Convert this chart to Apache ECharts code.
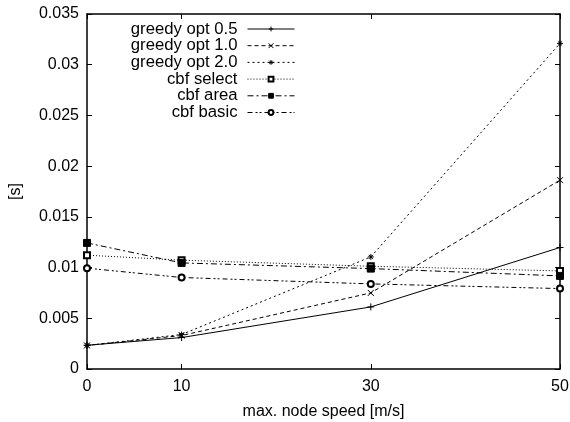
<!DOCTYPE html>
<html>
<head>
<meta charset="utf-8">
<script src="https://cdn.jsdelivr.net/npm/echarts@6/dist/echarts.min.js"></script>
<style>
html,body{margin:0;padding:0;background:#fff;}
#chart{width:570px;height:422px;}
</style>
</head>
<body>
<div id="chart"></div>
<script>
var speeds = [0, 10, 30, 50];
var xTicks = [0, 10, 30, 50];
var seriesNames = ['greedy opt 0.5', 'greedy opt 1.0', 'greedy opt 2.0', 'cbf select', 'cbf area', 'cbf basic'];
var greedy05 = [0.00234, 0.00310, 0.00612, 0.01198];
var greedy10 = [0.00232, 0.00330, 0.00750, 0.01862];
var greedy20 = [0.00232, 0.00340, 0.01105, 0.03210];
var cbfSelect = [0.01122, 0.01073, 0.01013, 0.00967];
var cbfArea = [0.01243, 0.01046, 0.00990, 0.00918];
var cbfBasic = [0.00994, 0.00902, 0.00839, 0.00793];
var yMin = 0, yMax = 0.035, yStep = 0.005;

var FONT = 'Liberation Sans';
var values = [greedy05, greedy10, greedy20, cbfSelect, cbfArea, cbfBasic];
var symbols = [
  'path://M0,5L10,5M5,0L5,10',
  'path://M0,0L10,10M10,0L0,10',
  'path://M0,5L10,5M5,0L5,10M1.5,1.5L8.5,8.5M8.5,1.5L1.5,8.5',
  'emptyRect',
  'rect',
  'emptyCircle'
];
var symSizes = [7, 6, 6, 6, 7, 6];
var dashes = ['solid', [4, 3], [2, 3], [1, 2], [6, 3, 2, 3], [5, 3, 2, 2, 2, 3]];

function pairs(arr) { return speeds.map(function (s, i) { return [s, arr[i]]; }); }

var series = seriesNames.map(function (n, i) {
  return {
    name: n, type: 'line', data: pairs(values[i]),
    symbol: symbols[i], symbolSize: symSizes[i], showSymbol: true,
    lineStyle: { color: '#000', width: 1, type: dashes[i] },
    itemStyle: { color: '#000', borderColor: '#000', borderWidth: 1 },
    emphasis: { disabled: true }, animation: false
  };
});

var legendRows = seriesNames.map(function (n, i) {
  return {
    data: [n], orient: 'horizontal', align: 'right', right: 275, top: 20.5 + i * 16.7,
    padding: 0, itemWidth: 47, itemHeight: 6, itemGap: 10,
    lineStyle: { width: 1 },
    itemStyle: { borderWidth: 1 },
    textStyle: { fontFamily: FONT, fontSize: 16.7, color: '#000', padding: [0, 5, 0, 0] },
    selectedMode: false
  };
});

var tickStyle = { show: true, inside: true, length: 5, lineStyle: { color: '#000', width: 1 } };
var axLine = { show: true, onZero: false, lineStyle: { color: '#000', width: 1.5 } };
var lbl = { fontFamily: FONT, fontSize: 16, color: '#000' };

var option = {
  animation: false,
  grid: { left: 87, right: 10, top: 14, bottom: 53, containLabel: false, outerBoundsMode: 'none' },
  legend: legendRows,
  xAxis: [{
    type: 'value', min: 0, max: 50, position: 'bottom',
    axisLine: axLine, splitLine: { show: false },
    axisTick: Object.assign({ customValues: xTicks }, tickStyle),
    axisLabel: Object.assign({ customValues: xTicks, margin: 10 }, lbl),
    name: 'max. node speed [m/s]', nameLocation: 'middle', nameGap: 35,
    nameTextStyle: lbl
  }, {
    type: 'value', min: 0, max: 50, position: 'top',
    axisLine: axLine, splitLine: { show: false },
    axisTick: Object.assign({ customValues: xTicks }, tickStyle),
    axisLabel: { show: false }
  }],
  yAxis: [{
    type: 'value', min: yMin, max: yMax, interval: yStep, position: 'left',
    axisLine: axLine, splitLine: { show: false },
    axisTick: tickStyle,
    axisLabel: Object.assign({ margin: 8 }, lbl),
    name: '[s]', nameLocation: 'middle', nameGap: 63, nameRotate: 90,
    nameTextStyle: lbl
  }, {
    type: 'value', min: yMin, max: yMax, interval: yStep, position: 'right',
    axisLine: axLine, splitLine: { show: false },
    axisTick: tickStyle, axisLabel: { show: false }
  }],
  series: series
};

var chart = echarts.init(document.getElementById('chart'), null, { renderer: 'canvas' });
chart.setOption(option);
</script>
</body>
</html>
